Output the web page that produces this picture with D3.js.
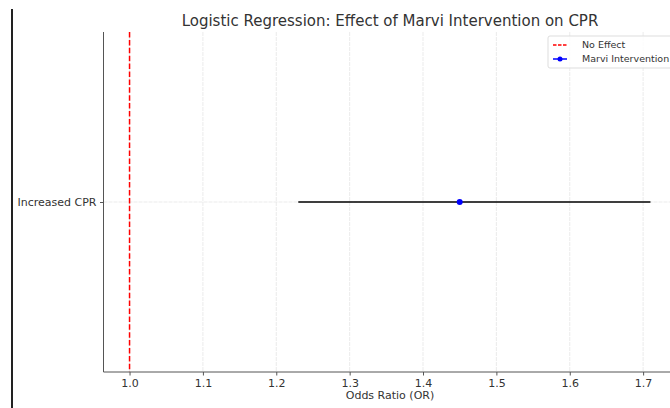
<!DOCTYPE html>
<html>
<head>
<meta charset="utf-8">
<script src="https://cdn.jsdelivr.net/npm/d3@7"></script>
<style>
  body { margin: 0; background: #fff; }
  svg { display: block; font-family: "DejaVu Sans", sans-serif; }
</style>
</head>
<body>
<div id="chart"></div>
<script>
var categories = ["Increased CPR"];
var oddsRatios = [1.45];
var ciLower = [1.23];
var ciUpper = [1.71];
var xTicks = [1.0, 1.1, 1.2, 1.3, 1.4, 1.5, 1.6, 1.7];
var noEffect = 1.0;
var legendLabels = ["No Effect", "Marvi Intervention"];

var width = 670;
var height = 408;
var plotTop = 32, plotBottom = 372, plotLeft = 103.5;

var svg = d3.select("#chart").append("svg")
  .attr("width", width)
  .attr("height", height);

/* Scale */
var xScale = d3.scaleLinear()
  .domain([0.9645, 1.7455])
  .range([plotLeft, 676.5]);

var yScale = d3.scalePoint()
  .domain(categories)
  .range([plotTop, plotBottom])
  .padding(0.5);

/* Grid */
var grid = svg.append("g").attr("class", "grid");
grid.selectAll("line.vgrid")
  .data(xTicks).enter()
  .append("line")
  .attr("x1", d => xScale(d)).attr("x2", d => xScale(d))
  .attr("y1", plotTop).attr("y2", plotBottom)
  .attr("stroke", "#e6e6e6")
  .attr("stroke-width", 0.8)
  .attr("stroke-dasharray", "4,1");

grid.selectAll("line.hgrid")
  .data(categories).enter()
  .append("line")
  .attr("x1", plotLeft).attr("x2", width)
  .attr("y1", d => yScale(d)).attr("y2", d => yScale(d))
  .attr("stroke", "#e6e6e6")
  .attr("stroke-width", 0.8)
  .attr("stroke-dasharray", "4,1");

/* No effect line */
svg.append("line")
  .attr("x1", xScale(noEffect)).attr("x2", xScale(noEffect))
  .attr("y1", plotTop).attr("y2", plotBottom)
  .attr("stroke", "#ff0000")
  .attr("stroke-width", 1.5)
  .attr("stroke-dasharray", "5.5,2.4");

/* Error bars */
var rows = categories.map((c, i) => ({cat: c, or: oddsRatios[i], lo: ciLower[i], hi: ciUpper[i]}));

svg.selectAll("line.ci")
  .data(rows).enter()
  .append("line")
  .attr("x1", d => xScale(d.lo)).attr("x2", d => xScale(d.hi))
  .attr("y1", d => yScale(d.cat)).attr("y2", d => yScale(d.cat))
  .attr("stroke", "#000")
  .attr("stroke-width", 1.5);

svg.selectAll("circle.pt")
  .data(rows).enter()
  .append("circle")
  .attr("cx", d => xScale(d.or))
  .attr("cy", d => yScale(d.cat))
  .attr("r", 3)
  .attr("fill", "#0000ff");

/* Axes */
var xAxis = d3.axisBottom(xScale).tickValues(xTicks).tickFormat(d3.format(".1f")).tickSizeOuter(0).tickSize(3.5).tickPadding(3.5);
var yAxis = d3.axisLeft(yScale).tickSizeOuter(0).tickSize(3.5).tickPadding(3.5);

var gx = svg.append("g")
  .attr("transform", `translate(0, ${plotBottom})`)
  .call(xAxis);
gx.select(".domain").remove();
gx.append("line")
  .attr("x1", plotLeft).attr("x2", width)
  .attr("stroke", "#555").attr("stroke-width", 1);

var gy = svg.append("g")
  .attr("transform", `translate(${plotLeft}, 0)`)
  .call(yAxis);
gy.select(".domain").remove();
gy.append("line")
  .attr("y1", plotTop).attr("y2", plotBottom)
  .attr("stroke", "#555").attr("stroke-width", 1);

svg.selectAll(".tick line").attr("stroke", "#555");
svg.selectAll(".tick text").attr("fill", "#333").style("font-size", "11px").style("font-family", "DejaVu Sans, sans-serif");

/* Labels */
svg.append("text")
  .attr("x", 390)
  .attr("y", 26)
  .attr("text-anchor", "middle")
  .attr("fill", "#333")
  .style("font-size", "15px")
  .text("Logistic Regression: Effect of Marvi Intervention on CPR");

svg.append("text")
  .attr("x", 390)
  .attr("y", 399)
  .attr("text-anchor", "middle")
  .attr("fill", "#333")
  .style("font-size", "11px")
  .text("Odds Ratio (OR)");

/* Legend */
var legend = svg.append("g").attr("transform", "translate(548, 36)");
legend.append("rect")
  .attr("x", 0).attr("y", 0)
  .attr("width", 130).attr("height", 32)
  .attr("rx", 2)
  .attr("fill", "#fff").attr("fill-opacity", 0.8)
  .attr("stroke", "#ddd");
legend.append("line")
  .attr("x1", 5).attr("x2", 19).attr("y1", 9).attr("y2", 9)
  .attr("stroke", "#ff0000").attr("stroke-width", 1.5)
  .attr("stroke-dasharray", "3.5,1.5");
legend.append("line")
  .attr("x1", 5).attr("x2", 19).attr("y1", 23).attr("y2", 23)
  .attr("stroke", "#0000ff").attr("stroke-width", 1.5);
legend.append("circle")
  .attr("cx", 12).attr("cy", 23).attr("r", 2.5)
  .attr("fill", "#0000ff");
legend.selectAll("text")
  .data(legendLabels).enter()
  .append("text")
  .attr("x", 34)
  .attr("y", (d, i) => 12 + i * 14)
  .attr("fill", "#333")
  .style("font-size", "9.5px")
  .text(d => d);

/* left border line */
svg.append("line")
  .attr("x1", 12).attr("x2", 12)
  .attr("y1", 9).attr("y2", height)
  .attr("stroke", "#222").attr("stroke-width", 2);
</script>
</body>
</html>
